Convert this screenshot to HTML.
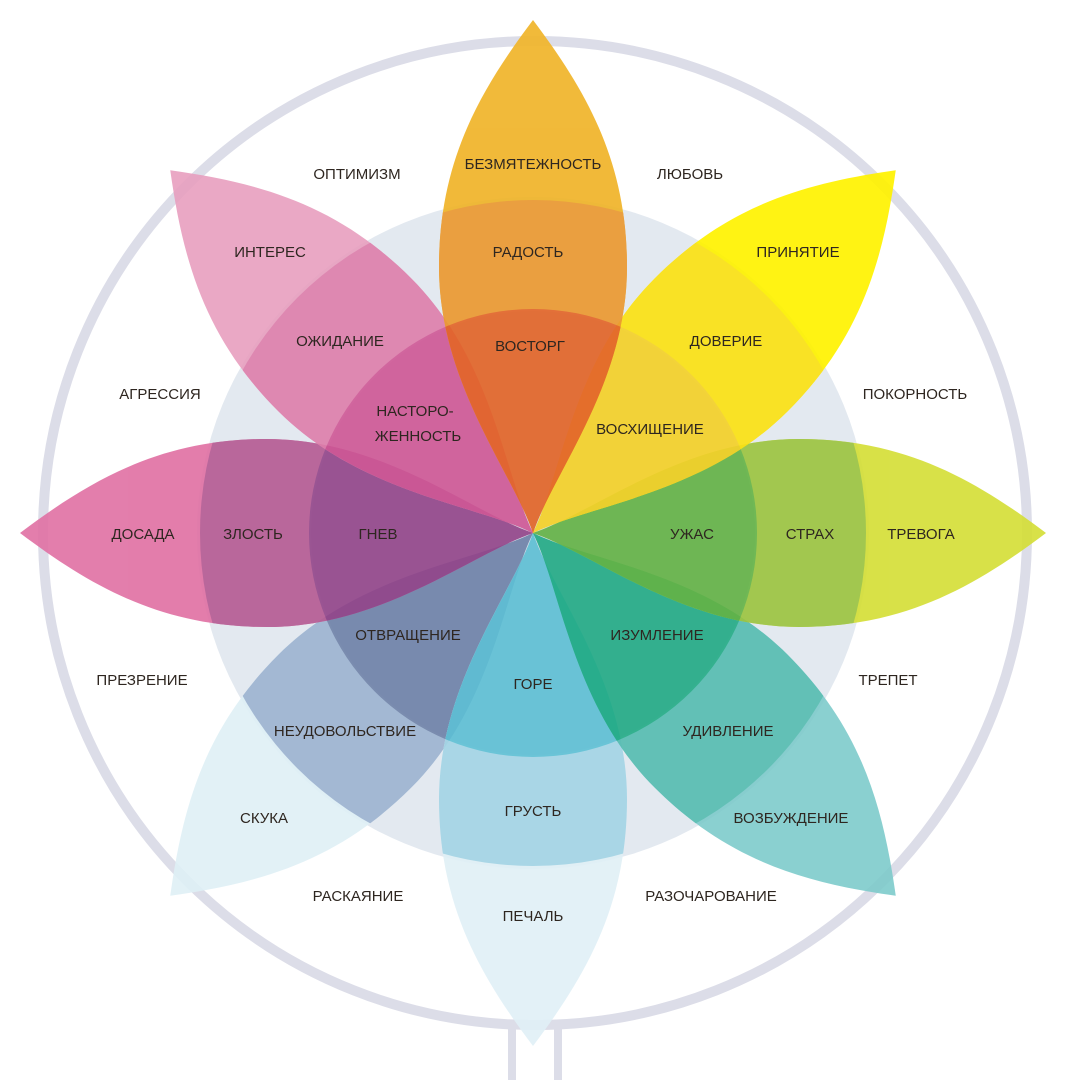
<!DOCTYPE html>
<html><head><meta charset="utf-8"><style>
html,body{margin:0;padding:0;background:#fff}
svg{display:block}
text{font-family:"Liberation Sans",sans-serif;font-size:15px;fill:#2e2620;text-anchor:middle;dominant-baseline:middle}
</style></head><body>
<svg width="1080" height="1080" viewBox="0 0 1080 1080" xmlns="http://www.w3.org/2000/svg">
<defs>
<path id="p" d="M0,0 C20,-60 94,-150 94,-266 C94,-370 55,-440 0,-513 C-55,-440 -94,-370 -94,-266 C-94,-150 -20,-60 0,0 Z"/>
<clipPath id="c330"><circle cx="0" cy="0" r="333"/></clipPath>
<clipPath id="c220"><circle cx="0" cy="0" r="224"/></clipPath>
</defs>
<line x1="512" y1="1010" x2="512" y2="1080" stroke="#dcdde8" stroke-width="8"/>
<line x1="558" y1="1010" x2="558" y2="1080" stroke="#dcdde8" stroke-width="8"/>
<circle cx="535" cy="533" r="492" fill="#fff" stroke="#dcdde8" stroke-width="10"/>
<circle cx="533" cy="533" r="336" fill="#e3e9f0"/>
<circle cx="533" cy="533" r="222" fill="#d3dbe6"/>
<g transform="translate(533,533)">
<g transform="rotate(225)" opacity="0.9"><use href="#p" fill="#dff0f6"/><use href="#p" fill="#9db3d0" clip-path="url(#c330)"/><use href="#p" fill="#6f82a8" clip-path="url(#c220)"/></g>
<g transform="rotate(180)" opacity="0.9"><use href="#p" fill="#e0f0f6"/><use href="#p" fill="#a3d5e5" clip-path="url(#c330)"/><use href="#p" fill="#5ec0d5" clip-path="url(#c220)"/></g>
<g transform="rotate(135)" opacity="0.9"><use href="#p" fill="#7ecbcb"/><use href="#p" fill="#55bcb0" clip-path="url(#c330)"/><use href="#p" fill="#22ab85" clip-path="url(#c220)"/></g>
<g transform="rotate(90)" opacity="0.9"><use href="#p" fill="#d4de34"/><use href="#p" fill="#9cc43e" clip-path="url(#c330)"/><use href="#p" fill="#64b345" clip-path="url(#c220)"/></g>
<g transform="rotate(270)" opacity="0.9"><use href="#p" fill="#e070a3"/><use href="#p" fill="#b55a92" clip-path="url(#c330)"/><use href="#p" fill="#93458a" clip-path="url(#c220)"/></g>
<g transform="rotate(315)" opacity="0.9"><use href="#p" fill="#e89fbf"/><use href="#p" fill="#de7eab" clip-path="url(#c330)"/><use href="#p" fill="#d05896" clip-path="url(#c220)"/></g>
<g transform="rotate(45)" opacity="0.92"><use href="#p" fill="#fff200"/><use href="#p" fill="#fbe214" clip-path="url(#c330)"/><use href="#p" fill="#f5d22a" clip-path="url(#c220)"/></g>
<g opacity="0.92"><use href="#p" fill="#f0b429"/><use href="#p" fill="#eb9932" clip-path="url(#c330)"/><use href="#p" fill="#e3662a" clip-path="url(#c220)"/></g>
</g>
<text x="533" y="165">БЕЗМЯТЕЖНОСТЬ</text>
<text x="528" y="253">РАДОСТЬ</text>
<text x="530" y="347">ВОСТОРГ</text>
<text x="357" y="175">ОПТИМИЗМ</text>
<text x="690" y="175">ЛЮБОВЬ</text>
<text x="270" y="253">ИНТЕРЕС</text>
<text x="798" y="253">ПРИНЯТИЕ</text>
<text x="340" y="342">ОЖИДАНИЕ</text>
<text x="726" y="342">ДОВЕРИЕ</text>
<text x="160" y="395">АГРЕССИЯ</text>
<text x="915" y="395">ПОКОРНОСТЬ</text>
<text x="415" y="412">НАСТОРО-</text>
<text x="418" y="437">ЖЕННОСТЬ</text>
<text x="650" y="430">ВОСХИЩЕНИЕ</text>
<text x="143" y="535">ДОСАДА</text>
<text x="253" y="535">ЗЛОСТЬ</text>
<text x="378" y="535">ГНЕВ</text>
<text x="692" y="535">УЖАС</text>
<text x="810" y="535">СТРАХ</text>
<text x="921" y="535">ТРЕВОГА</text>
<text x="408" y="636">ОТВРАЩЕНИЕ</text>
<text x="657" y="636">ИЗУМЛЕНИЕ</text>
<text x="142" y="681">ПРЕЗРЕНИЕ</text>
<text x="888" y="681">ТРЕПЕТ</text>
<text x="533" y="685">ГОРЕ</text>
<text x="345" y="732">НЕУДОВОЛЬСТВИЕ</text>
<text x="728" y="732">УДИВЛЕНИЕ</text>
<text x="533" y="812">ГРУСТЬ</text>
<text x="264" y="819">СКУКА</text>
<text x="791" y="819">ВОЗБУЖДЕНИЕ</text>
<text x="358" y="897">РАСКАЯНИЕ</text>
<text x="711" y="897">РАЗОЧАРОВАНИЕ</text>
<text x="533" y="917">ПЕЧАЛЬ</text>
</svg>
</body></html>
